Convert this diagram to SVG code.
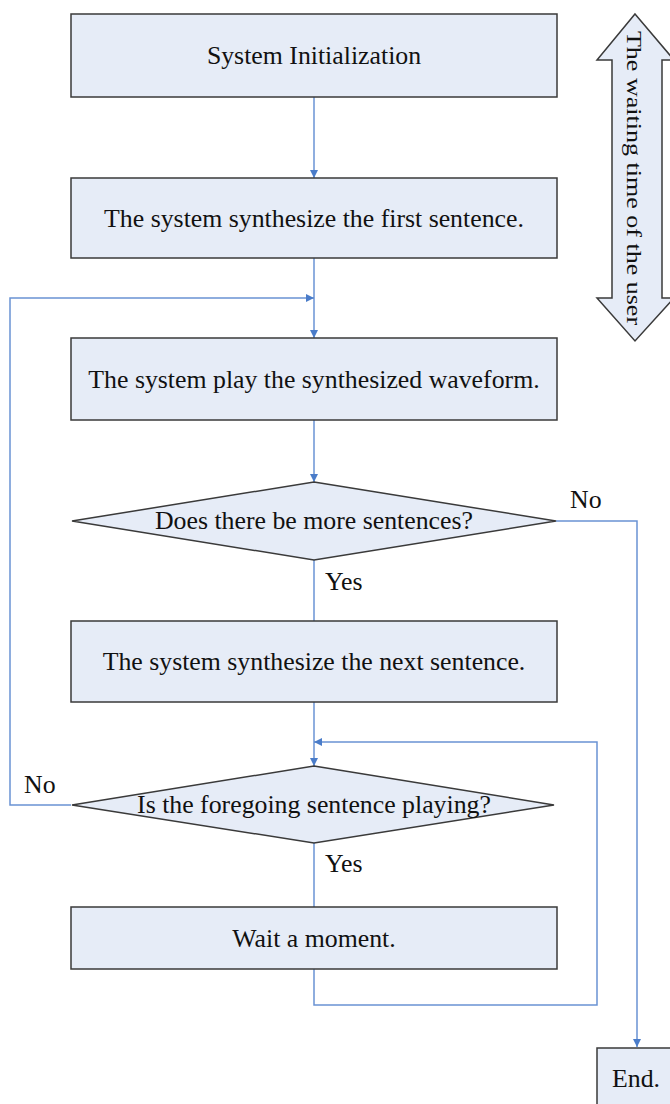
<svg xmlns="http://www.w3.org/2000/svg" width="670" height="1104" viewBox="0 0 670 1104">
<defs>
<style>
.box{fill:#E6ECF7;stroke:#3A3A3A;stroke-width:1.5}
.t{font-family:"Liberation Serif","Times New Roman",serif;font-size:25.8px;fill:#111;text-anchor:middle}
.lbl{font-family:"Liberation Serif","Times New Roman",serif;font-size:25.8px;fill:#111}
.c{fill:none;stroke:#6A93D4;stroke-width:1.5}
</style>
<marker id="ah" viewBox="0 0 10 10" refX="10" refY="5" markerWidth="8" markerHeight="8" markerUnits="userSpaceOnUse" orient="auto">
<path d="M0,0 L10,5 L0,10 z" fill="#4A7CC9"/>
</marker>
</defs>
<rect width="670" height="1104" fill="#FFFFFF"/>
<g id="connectors">
<path class="c" d="M314,97 V178" marker-end="url(#ah)"/>
<path class="c" d="M314,258 V338" marker-end="url(#ah)"/>
<path class="c" d="M71,805 H10 V298 H314" marker-end="url(#ah)"/>
<path class="c" d="M314,420 V482" marker-end="url(#ah)"/>
<path class="c" d="M556,521 H637 V1047" marker-end="url(#ah)"/>
<path class="c" d="M314,560 V621"/>
<path class="c" d="M314,702 V766" marker-end="url(#ah)"/>
<path class="c" d="M314,969 V1005 H597 V742 H314" marker-end="url(#ah)"/>
<path class="c" d="M314,843 V907"/>
<text class="lbl" x="570" y="508">No</text>
<text class="lbl" x="325" y="590">Yes</text>
<text class="lbl" x="24" y="793">No</text>
<text class="lbl" x="325" y="872">Yes</text>
</g>
<g id="init"><rect class="box" x="71" y="14" width="486" height="83"/><text class="t" x="314" y="64">System Initialization</text></g>
<g id="synth-first"><rect class="box" x="71" y="178" width="486" height="80"/><text class="t" x="314" y="227">The system synthesize the first sentence.</text></g>
<g id="play"><rect class="box" x="71" y="338" width="486" height="82"/><text class="t" x="314" y="388">The system play the synthesized waveform.</text></g>
<g id="more"><polygon class="box" points="314,482 556,521 314,560 72,521"/><text class="t" x="314" y="529">Does there be more sentences?</text></g>
<g id="synth-next"><rect class="box" x="71" y="621" width="486" height="81"/><text class="t" x="314" y="670">The system synthesize the next sentence.</text></g>
<g id="playing"><polygon class="box" points="314,766 554,805 314,843 72,805"/><text class="t" x="314" y="813">Is the foregoing sentence playing?</text></g>
<g id="wait"><rect class="box" x="71" y="907" width="486" height="62"/><text class="t" x="314" y="947">Wait a moment.</text></g>
<g id="end"><rect class="box" x="597" y="1048" width="80" height="70"/><text class="t" x="636" y="1087">End.</text></g>
<g id="waiting-arrow"><polygon class="box" points="635,14 674,60 662,60 662,298 674,298 635,341 597,298 612,298 612,60 597,60"/><text class="t" style="font-size:21px" transform="translate(627,178) rotate(90) scale(1.24,1)">The waiting time of the user</text></g>
</svg>
